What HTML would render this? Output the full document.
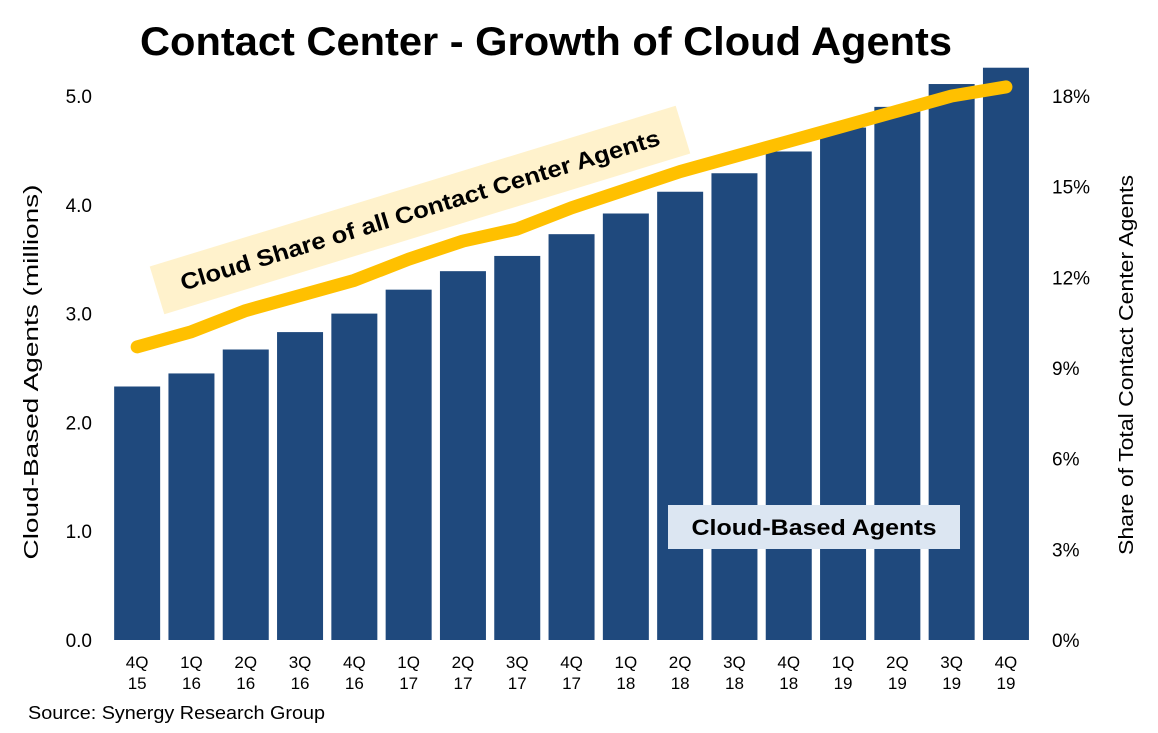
<!DOCTYPE html>
<html><head><meta charset="utf-8"><style>
body{margin:0;background:#fff;font-family:"Liberation Sans",Arial,sans-serif}
svg{display:block}
</style></head><body>
<svg id="c" width="1158" height="733">
<text x="546" y="55" text-anchor="middle" font-size="40" font-weight="bold" textLength="812" lengthAdjust="spacingAndGlyphs">Contact Center - Growth of Cloud Agents</text>
<text transform="translate(38,372) rotate(-90)" text-anchor="middle" font-size="20" textLength="375" lengthAdjust="spacingAndGlyphs">Cloud-Based Agents  (millions)</text>
<text transform="translate(1133,365) rotate(-90)" text-anchor="middle" font-size="20" textLength="380" lengthAdjust="spacingAndGlyphs">Share of Total Contact Center Agents</text>
<text x="28" y="719" font-size="18" textLength="297" lengthAdjust="spacingAndGlyphs">Source: Synergy Research Group</text>
<g id="bars"></g><g id="xl"></g><g id="yl"></g><g id="yr"></g><g id="ln"></g>
<g transform="translate(420,210) rotate(-17)">
<rect x="-275" y="-25" width="550" height="50" fill="#FFF2CC"/>
<text x="0" y="8" text-anchor="middle" font-size="23" font-weight="bold" textLength="500" lengthAdjust="spacingAndGlyphs">Cloud Share of all Contact Center Agents</text>
</g>
<g>
<rect x="668" y="505" width="292" height="44" fill="#DCE6F2"/>
<text x="814" y="535" text-anchor="middle" font-size="22" font-weight="bold" textLength="245" lengthAdjust="spacingAndGlyphs">Cloud-Based Agents</text>
</g>
</svg>
<script>
const categories=[["4Q","15"],["1Q","16"],["2Q","16"],["3Q","16"],["4Q","16"],["1Q","17"],["2Q","17"],["3Q","17"],["4Q","17"],["1Q","18"],["2Q","18"],["3Q","18"],["4Q","18"],["1Q","19"],["2Q","19"],["3Q","19"],["4Q","19"]];
const agents=[2.33,2.45,2.67,2.83,3.0,3.22,3.39,3.53,3.73,3.92,4.12,4.29,4.49,4.71,4.9,5.11,5.26];
const share=[9.7,10.2,10.9,11.4,11.9,12.6,13.2,13.6,14.3,14.9,15.5,16.0,16.5,17.0,17.5,18.0,18.3];
const leftTicks=["0.0","1.0","2.0","3.0","4.0","5.0"];
const rightTicks=["0%","3%","6%","9%","12%","15%","18%"];
const NS="http://www.w3.org/2000/svg";
const y0=640,x0=110,step=54.3,bw=46;
const yL=v=>y0-v*108.8, yR=p=>y0-p*(544/18), xc=i=>x0+step*i+step/2;
function mk(t,a,p){const e=document.createElementNS(NS,t);for(const k in a)e.setAttribute(k,a[k]);p.appendChild(e);return e;}
const bars=document.getElementById('bars');
agents.forEach((v,i)=>{const r=mk('rect',{x:xc(i)-bw/2,y:yL(v),width:bw,height:y0-yL(v),fill:'#1F497D'},bars);

});
const xl=document.getElementById('xl');
categories.forEach((c,i)=>{const t=mk('text',{x:xc(i),y:668,'text-anchor':'middle','font-size':'17'},xl);


mk('tspan',{x:xc(i),dy:0},t).textContent=c[0];mk('tspan',{x:xc(i),dy:21},t).textContent=c[1];});
const yl=document.getElementById('yl');
leftTicks.forEach((s,i)=>{const t=mk('text',{x:92,y:yL(i)+7,'text-anchor':'end','font-size':'19'},yl);t.textContent=s;

});
const yr=document.getElementById('yr');
rightTicks.forEach((s,i)=>{const t=mk('text',{x:1052,y:yR(i*3)+7,'font-size':'19'},yr);t.textContent=s;

});
const ln=document.getElementById('ln');
const p=mk('polyline',{points:share.map((v,i)=>xc(i)+','+yR(v)).join(' '),fill:'none',stroke:'#FFC000','stroke-width':13,'stroke-linecap':'round','stroke-linejoin':'round'},ln);


</script>
</body></html>
